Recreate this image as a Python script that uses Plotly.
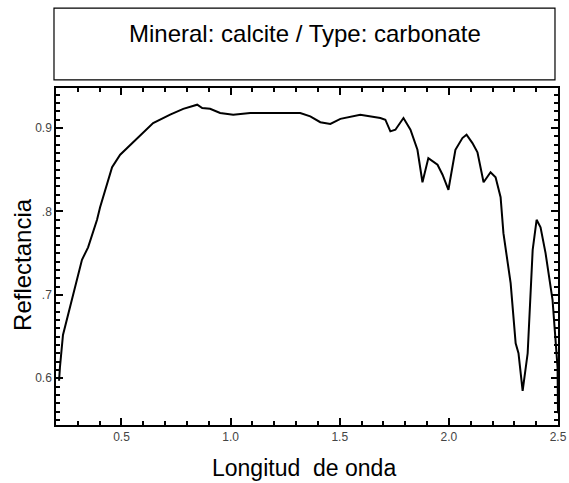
import plotly.graph_objects as go

# Wavelength (µm) and reflectance
wavelength = [0.214, 0.218, 0.232, 0.255, 0.283, 0.319, 0.347, 0.370, 0.388, 0.402,
              0.434, 0.457, 0.494, 0.572, 0.645, 0.723, 0.783, 0.847, 0.870, 0.906,
              0.952, 1.012, 1.090, 1.182, 1.273, 1.319, 1.365, 1.411, 1.457, 1.503,
              1.594, 1.686, 1.709, 1.732, 1.755, 1.792, 1.824, 1.856, 1.879, 1.906,
              1.948, 1.971, 1.998, 2.030, 2.062, 2.081, 2.108, 2.131, 2.159, 2.191,
              2.214, 2.237, 2.250, 2.283, 2.306, 2.319, 2.338, 2.361, 2.384, 2.402,
              2.420, 2.443, 2.475, 2.498, 2.500]
reflectance = [0.597, 0.613, 0.652, 0.676, 0.702, 0.742, 0.757, 0.775, 0.790, 0.805,
               0.834, 0.853, 0.868, 0.887, 0.906, 0.916, 0.923, 0.928, 0.924, 0.923,
               0.918, 0.916, 0.918, 0.918, 0.918, 0.918, 0.914, 0.907, 0.905, 0.911,
               0.916, 0.912, 0.910, 0.896, 0.898, 0.912, 0.898, 0.874, 0.835, 0.864,
               0.856, 0.844, 0.826, 0.874, 0.888, 0.892, 0.882, 0.871, 0.835, 0.847,
               0.841, 0.817, 0.774, 0.714, 0.642, 0.630, 0.585, 0.630, 0.754, 0.790,
               0.781, 0.750, 0.694, 0.613, 0.558]

# Tick labels (y axis shows ".7" and ".8" as in the reference)
y_label_alias = {"0.7": ".7", "0.8": ".8"}

title_text = "Mineral: calcite / Type: carbonate"
x_title = "Longitud  de onda"
y_title = "Reflectancia"

FONT = "Liberation Sans, Arial, sans-serif"

fig = go.Figure()
fig.add_trace(go.Scatter(x=wavelength, y=reflectance, mode="lines",
                         line=dict(color="black", width=2), showlegend=False))

axis_common = dict(
    showgrid=False, zeroline=False, showline=True, linecolor="black", linewidth=1.5,
    mirror="allticks", ticks="inside", ticklen=7, tickwidth=1.5, tickcolor="black",
    tickfont=dict(family=FONT, size=12, color="#444"), automargin=False,
)

fig.update_xaxes(range=[0.2, 2.5], tickmode="linear", tick0=0, dtick=0.5,
                 tickformat=".1f",
                 minor=dict(dtick=0.1, tick0=0, ticks="inside", ticklen=4,
                            tickwidth=1.5, tickcolor="black", showgrid=False),
                 **axis_common)
fig.update_yaxes(range=[0.544, 0.948], tickmode="linear", tick0=0, dtick=0.1,
                 tickformat=".1f", labelalias=y_label_alias,
                 minor=dict(dtick=0.01, tick0=0, ticks="inside", ticklen=4,
                            tickwidth=1.5, tickcolor="black", showgrid=False),
                 **axis_common)

# Title box
fig.add_shape(type="rect", xref="paper", yref="paper",
              x0=-0.004, x1=0.994, y0=1.024, y1=1.237,
              line=dict(color="black", width=1.2), fillcolor="white")
fig.add_annotation(text=title_text, xref="paper", yref="paper", x=0.497, y=1.163,
                   showarrow=False, xanchor="center", yanchor="middle",
                   font=dict(family=FONT, size=24, color="black"))
# Axis titles
fig.add_annotation(text=x_title, xref="paper", yref="paper", x=0.494, y=-0.128,
                   showarrow=False, xanchor="center", yanchor="middle",
                   font=dict(family=FONT, size=23, color="black"))
fig.add_annotation(text=y_title, xref="paper", yref="paper", x=-0.0657, y=0.475,
                   showarrow=False, xanchor="center", yanchor="middle", textangle=-90,
                   font=dict(family=FONT, size=24, color="black"))

fig.update_layout(width=569, height=483,
                  margin=dict(l=56, r=11, t=88, b=58),
                  paper_bgcolor="white", plot_bgcolor="white")

fig.write_html("out.html", config={"displayModeBar": False},
               post_script="document.body.style.margin='0';")
